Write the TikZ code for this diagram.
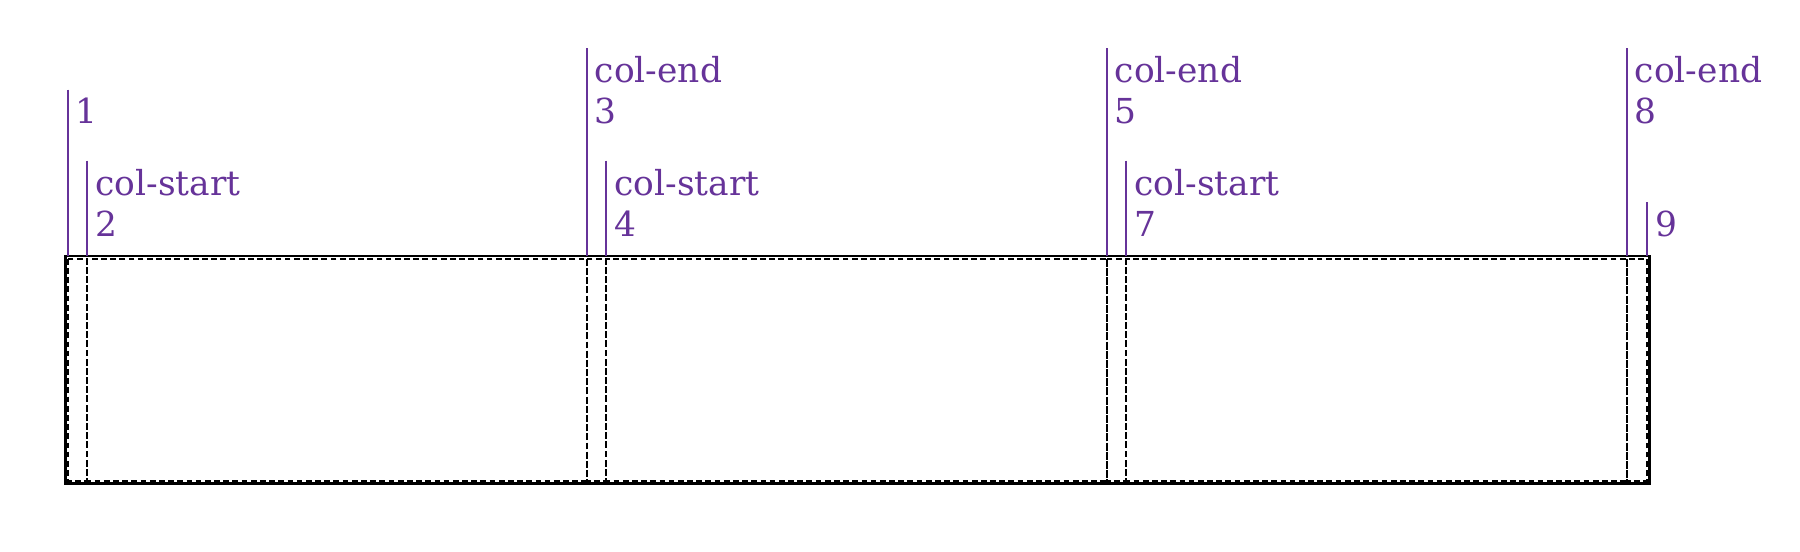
\documentclass[tikz,border=0pt]{standalone}
\usepackage{fontspec}
\setmainfont{DejaVu Serif}
\definecolor{gridpurple}{HTML}{663399}
\begin{document}
\begin{tikzpicture}[x=1pt,y=1pt,
  gridline/.style={draw=gridpurple,line width=1.8pt},
  lbl/.style={text=gridpurple,anchor=base west,inner sep=0pt,font=\fontsize{30}{36}\selectfont},
  track/.style={draw=black,line width=1.9pt,dash pattern=on 5pt off 3pt},
  container/.style={draw=black,line width=2.2pt}]
\useasboundingbox (0,0) rectangle (1568,480);
% grid line coordinates (top and bottom)
\coordinate (t1) at (59,402);   \coordinate (b1) at (59,257);
\coordinate (t2) at (76,340);   \coordinate (b2) at (76,257);
\coordinate (t3) at (511,438);  \coordinate (b3) at (511,257);
\coordinate (t4) at (528,340);  \coordinate (b4) at (528,257);
\coordinate (t5) at (964,438);  \coordinate (b5) at (964,257);
\coordinate (t7) at (981,340);  \coordinate (b7) at (981,257);
\coordinate (t8) at (1417,438); \coordinate (b8) at (1417,257);
\coordinate (t9) at (1435,304); \coordinate (b9) at (1435,257);
% tracks (dashed)
\draw[track] (59,254.5) rectangle (76,61);
\draw[track] (76,254.5) rectangle (511,61);
\draw[track] (511,254.5) rectangle (528,61);
\draw[track] (528,254.5) rectangle (964,61);
\draw[track] (964,254.5) rectangle (981,61);
\draw[track] (981,254.5) rectangle (1417,61);
\draw[track] (1417,254.5) rectangle (1435,61);
% container
\draw[container] (57,257) rectangle (1437,59);
% grid lines
\foreach \i in {1,2,3,4,5,7,8,9} \draw[gridline] (t\i) -- (b\i);
% labels
\node[lbl] (n1) at (66,372) {1};
\node[lbl] (s2) at (83,310) {col-start};
\node[lbl] (n2) at (83,274) {2};
\node[lbl] (e3) at (518,408) {col-end};
\node[lbl] (n3) at (518,372) {3};
\node[lbl] (s4) at (535,310) {col-start};
\node[lbl] (n4) at (535,274) {4};
\node[lbl] (e5) at (971,408) {col-end};
\node[lbl] (n5) at (971,372) {5};
\node[lbl] (s7) at (988,310) {col-start};
\node[lbl] (n7) at (988,274) {7};
\node[lbl] (e8) at (1424,408) {col-end};
\node[lbl] (n8) at (1424,372) {8};
\node[lbl] (n9) at (1442,274) {9};
\end{tikzpicture}
\end{document}
